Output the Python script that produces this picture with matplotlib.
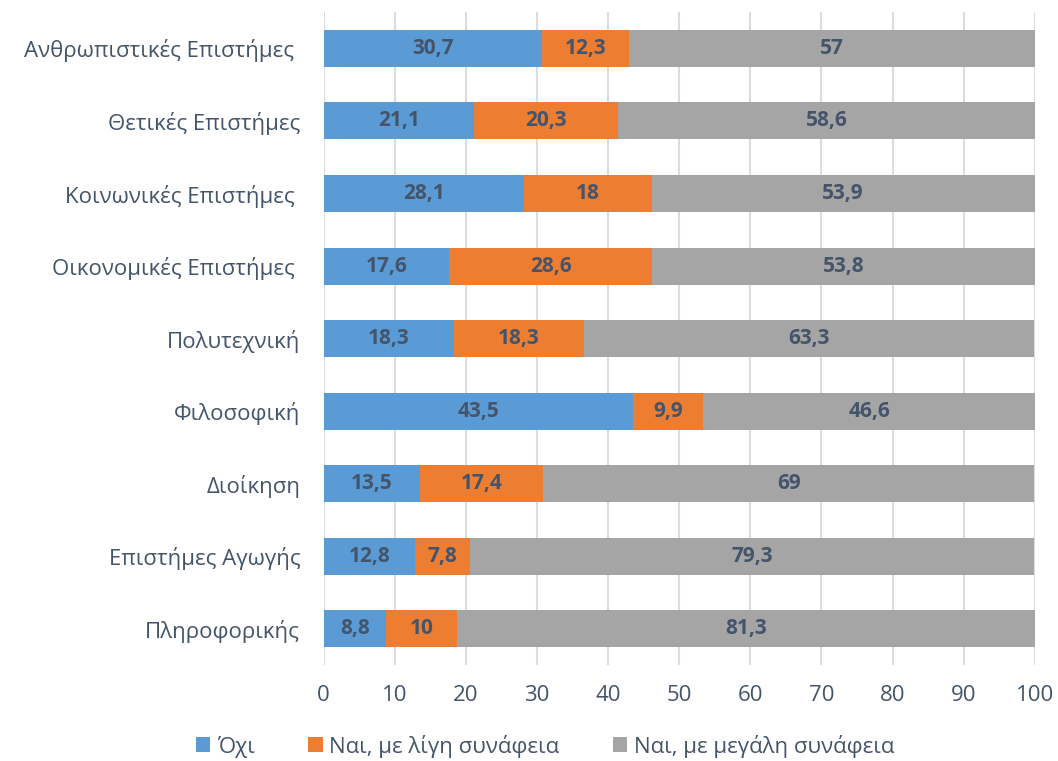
import matplotlib.pyplot as plt
import numpy as np

plt.rcParams['font.family'] = ['Open Sans', 'DejaVu Sans']

categories = ["Ανθρωπιστικές Επιστήμες ", "Θετικές Επιστήμες", "Κοινωνικές Επιστήμες ",
              "Οικονομικές Επιστήμες ", "Πολυτεχνική", "Φιλοσοφική", "Διοίκηση",
              "Επιστήμες Αγωγής", "Πληροφορικής"]
no = [30.7, 21.1, 28.1, 17.6, 18.3, 43.5, 13.5, 12.8, 8.8]
yes_little = [12.3, 20.3, 18, 28.6, 18.3, 9.9, 17.4, 7.8, 10]
yes_much = [57, 58.6, 53.9, 53.8, 63.3, 46.6, 69, 79.3, 81.3]
series = ["Όχι", "Ναι, με λίγη συνάφεια", "Ναι, με μεγάλη συνάφεια"]
colors = ["#5B9BD5", "#ED7D31", "#A5A5A5"]
txt = "#44546A"

fig = plt.figure(figsize=(10.58, 7.61), dpi=100)
ax = fig.add_axes([0.306, 0.126, 0.672, 0.858])

y = np.arange(len(categories))
left = np.zeros(len(categories))
for vals, name, c in zip([no, yes_little, yes_much], series, colors):
    vals = np.array(vals, dtype=float)
    bars = ax.barh(y, vals, left=left, height=0.51, color=c, label=name, zorder=2)
    labels = [("%g" % v).replace(".", ",") for v in vals]
    ax.bar_label(bars, labels=labels, label_type='center', color=txt,
                 fontsize=15, fontweight='bold')
    left += vals

ax.set_xlim(0, 100)
ax.set_ylim(len(categories) - 0.5, -0.5)
ax.set_xticks(np.arange(0, 101, 10))
ax.set_yticks(y)
ax.set_yticklabels(categories)
ax.xaxis.grid(True, color="#D9DDE3", linewidth=1.5, zorder=0)
for s in ax.spines.values():
    s.set_visible(False)
ax.tick_params(axis='both', length=0, labelsize=16, colors=txt)
ax.tick_params(axis='y', pad=17)
ax.tick_params(axis='x', pad=14)

fig.legend(*ax.get_legend_handles_labels(), loc='center', bbox_to_anchor=(545 / 1058, 1 - 746 / 761),
           ncol=3, frameon=False, fontsize=16, handlelength=0.65, handleheight=0.65,
           handletextpad=0.3, columnspacing=2.4, labelcolor=txt)

plt.savefig('out.png', dpi=100)
